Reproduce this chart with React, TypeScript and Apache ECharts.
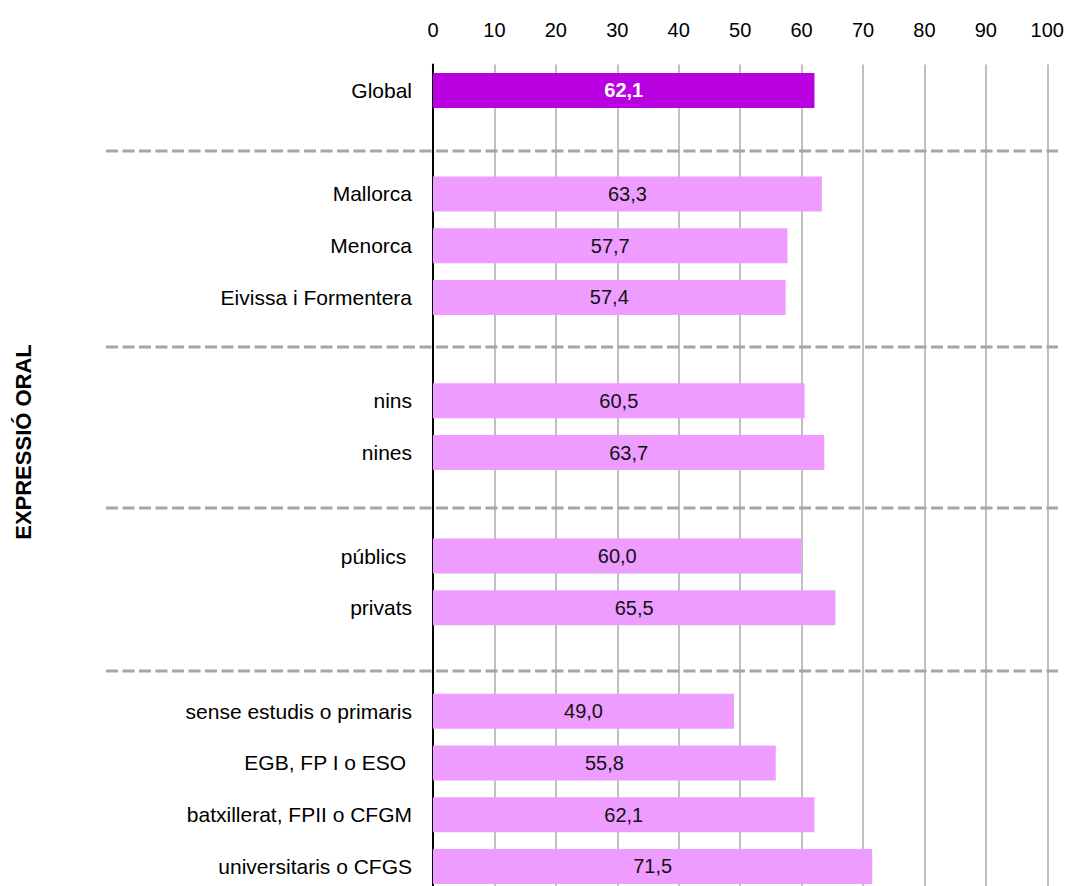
import React, { useEffect, useRef } from "react";
import * as echarts from "echarts";

const categories = [
  "Global",
  " ",
  "Mallorca",
  "Menorca",
  "Eivissa i Formentera",
  "  ",
  "nins",
  "nines",
  "   ",
  "públics ",
  "privats",
  "    ",
  "sense estudis o primaris",
  "EGB, FP I o ESO ",
  "batxillerat, FPII o CFGM",
  "universitaris o CFGS",
];

const values: (number | null)[] = [
  62.1, null, 63.3, 57.7, 57.4, null, 60.5, 63.7, null, 60.0, 65.5, null, 49.0, 55.8, 62.1, 71.5,
];

const xTicks = [0, 100];
const axisTitle = "EXPRESSIÓ ORAL";
const separatorYs = [151, 347, 508, 671];

const FONT = "'Liberation Sans', Arial, sans-serif";

export default function App() {
  const ref = useRef<HTMLDivElement>(null);

  useEffect(() => {
    if (!ref.current) return;
    const chart = echarts.init(ref.current, null, { renderer: "svg" });

    const data = values.map((v, i) => {
      if (v === null) return { value: null };
      if (i === 0) {
        return {
          value: v,
          itemStyle: { color: "#B800E0" },
          label: { color: "#ffffff", fontWeight: "bold" },
        };
      }
      return { value: v };
    });

    chart.setOption({
      animation: false,
      textStyle: { fontFamily: FONT },
      grid: { left: 433, right: 22.7, top: 64.6, height: 827.7, containLabel: false },
      xAxis: {
        type: "value",
        position: "top",
        min: xTicks[0],
        max: xTicks[1],
        interval: 10,
        axisLine: { show: false },
        axisTick: { show: false },
        axisLabel: { color: "#000", fontSize: 20, margin: 25, fontFamily: FONT },
        splitLine: { show: true, lineStyle: { color: "#c0c0c0", width: 2 } },
      },
      yAxis: {
        type: "category",
        inverse: true,
        data: categories,
        axisLine: { show: true, lineStyle: { color: "#000", width: 2 } },
        axisTick: { show: false },
        axisLabel: { color: "#000", fontSize: 21, margin: 21, fontFamily: FONT },
        splitLine: { show: false },
      },
      series: [
        {
          type: "bar",
          data,
          barWidth: 35,
          itemStyle: { color: "#EE9CFF" },
          label: {
            show: true,
            position: "inside",
            color: "#111",
            fontSize: 20,
            fontFamily: FONT,
            formatter: (p: any) => (p.value == null ? "" : Number(p.value).toFixed(1).replace(".", ",")),
          },
        },
      ],
      graphic: [
        ...separatorYs.map((y) => ({
          type: "line",
          shape: { x1: 106, y1: y, x2: 1058, y2: y },
          style: { stroke: "#a6a6a6", lineWidth: 3, lineDash: [12, 4.5] },
          z: 10,
        })),
        {
          type: "text",
          x: 23,
          y: 442,
          rotation: Math.PI / 2,
          style: {
            text: axisTitle,
            fontSize: 22,
            fontWeight: "bold",
            fontFamily: FONT,
            fill: "#000",
            align: "center",
            verticalAlign: "middle",
          },
        },
      ],
    });

    return () => chart.dispose();
  }, []);

  return (
    <div
      ref={ref}
      style={{ position: "fixed", left: 0, top: 0, width: 1070, height: 900, background: "#fff" }}
    />
  );
}
